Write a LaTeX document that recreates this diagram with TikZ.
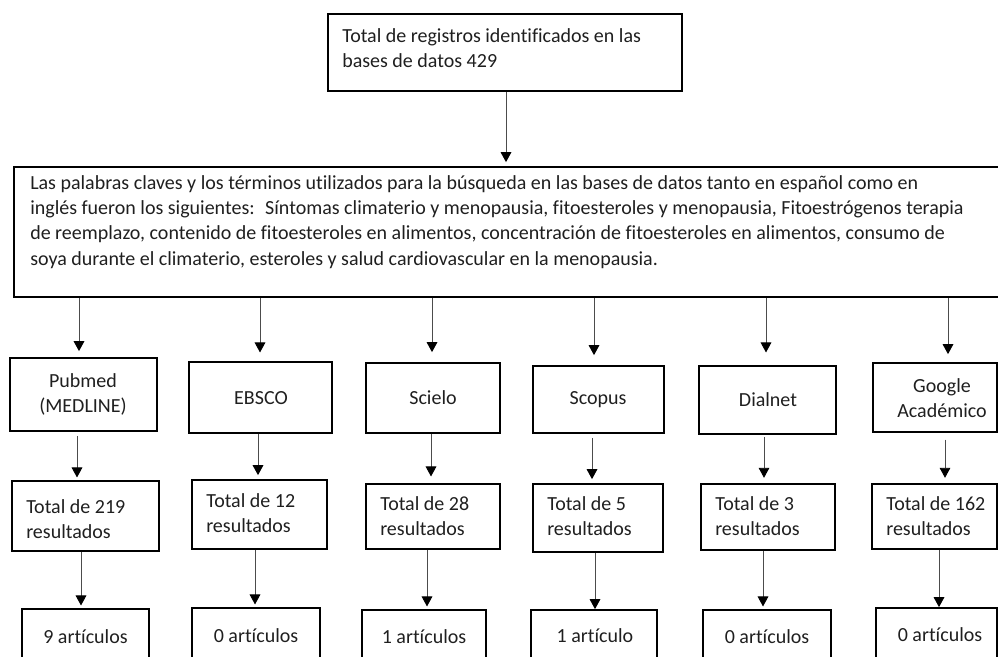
\documentclass[tikz,border=0pt]{standalone}
\usepackage{fontspec}
\setmainfont{Carlito}[Ligatures=NoCommon]
\usetikzlibrary{arrows.meta,fit}
\begin{document}
\begin{tikzpicture}[x=0.75pt,y=-0.75pt,
  box/.style={draw=black, line width=1.3pt, inner sep=0pt},
  txt/.style={font=\fontsize{15}{19}\selectfont, inner sep=0pt, text=black!88},
  arr/.style={draw=black!70, line width=0.7pt, -{Triangle[width=8pt,length=7.5pt,color=black]}}
]
\useasboundingbox (0,0) rectangle (998,656);
\clip (0,0) rectangle (998,656);

% top box
\node[box, fit={(328,14)(682,91)}] (top) {};
\node[txt, align=left, anchor=west] (topt) at (342,50)
  {\strut Total de registros identificados en las\\\strut bases de datos 429};

% big box
\node[box, fit={(14,167)(1005,297)}] (big) {};
\node[txt, align=left, anchor=west] (bigt) at (30,222)
  {\strut Las palabras claves y los términos utilizados para la búsqueda en las bases de datos tanto en español como en\\
   \strut inglés fueron los siguientes:~ Síntomas climaterio y menopausia, fitoesteroles y menopausia, Fitoestrógenos terapia\\
   \strut de reemplazo, contenido de fitoesteroles en alimentos, concentración de fitoesteroles en alimentos, consumo de\\
   \strut soya durante el climaterio, esteroles y salud cardiovascular en la menopausia.};

\draw[arr, shorten >=3pt] (top.south -| 506,0) -- (big.north -| 506,0);

% row 1
\node[box, fit={(10,358)(157,431)}] (pub) {};
\node[txt, align=center] (pubt) at (83,395) {\strut Pubmed\\\strut (MEDLINE)};
\node[box, fit={(189,362)(332,433)}] (ebs) {};
\node[txt] (ebst) at (261,398) {EBSCO};
\node[box, fit={(366,363)(500,433)}] (sci) {};
\node[txt] (scit) at (433,398) {Scielo};
\node[box, fit={(533,366)(664,433)}] (sco) {};
\node[txt] (scot) at (598,400) {Scopus};
\node[box, fit={(699,366)(836,434)}] (dia) {};
\node[txt] (diat) at (768,400) {Dialnet};
\node[box, fit={(873,363)(997,432)}] (goo) {};
\node[txt, align=center] (goot) at (942,400) {\strut Google\\\strut Académico};

\draw[arr, shorten >=4.5pt] (big.south -| 79,0) -- (pub.north -| 79,0);
\draw[arr, shorten >=6.5pt] (big.south -| 260,0) -- (ebs.north -| 260,0);
\draw[arr, shorten >=7.5pt] (big.south -| 432,0) -- (sci.north -| 432,0);
\draw[arr, shorten >=7.5pt] (big.south -| 594,0) -- (sco.north -| 594,0);
\draw[arr, shorten >=9.5pt] (big.south -| 766,0) -- (dia.north -| 766,0);
\draw[arr, shorten >=6pt] (big.south -| 948,0) -- (goo.north -| 948,0);

% row 2
\node[box, fit={(12,481)(159,551)}] (pubr) {};
\node[txt, align=left, anchor=west] (pubrt) at (26,521) {\strut Total de 219\\\strut resultados};
\node[box, fit={(192,480)(327,549)}] (ebsr) {};
\node[txt, align=left, anchor=west] (ebsrt) at (206,515) {\strut Total de 12\\\strut resultados};
\node[box, fit={(366,484)(500,549)}] (scir) {};
\node[txt, align=left, anchor=west] (scirt) at (380,518) {\strut Total de 28\\\strut resultados};
\node[box, fit={(533,484)(663,552)}] (scor) {};
\node[txt, align=left, anchor=west] (scort) at (547,518) {\strut Total de 5\\\strut resultados};
\node[box, fit={(701,484)(835,550)}] (diar) {};
\node[txt, align=left, anchor=west] (diart) at (715,518) {\strut Total de 3\\\strut resultados};
\node[box, fit={(872,484)(997,549)}] (goor) {};
\node[txt, align=left, anchor=west] (goort) at (886,518) {\strut Total de 162\\\strut resultados};

\draw[arr, shorten <=3pt, shorten >=2pt] (pub.south -| 77,0) -- (pubr.north -| 77,0);
\draw[arr, shorten >=3pt] (ebs.south -| 258,0) -- (ebsr.north -| 258,0);
\draw[arr, shorten >=5pt] (sci.south -| 431,0) -- (scir.north -| 431,0);
\draw[arr, shorten <=3pt, shorten >=3pt] (sco.south -| 592,0) -- (scor.north -| 592,0);
\draw[arr, shorten <=1.5pt, shorten >=4pt] (dia.south -| 764,0) -- (diar.north -| 764,0);
\draw[arr, shorten <=5pt, shorten >=4pt] (goo.south -| 945,0) -- (goor.north -| 945,0);

% row 3
\node[box, fit={(22,609)(149,690)}] (pubf) {};
\node[txt] (pubft) at (85.5,637) {9 artículos};
\node[box, fit={(192,608)(320,690)}] (ebsf) {};
\node[txt] (ebsft) at (256,636) {0 artículos};
\node[box, fit={(362,610)(486,690)}] (scif) {};
\node[txt] (scift) at (424,637) {1 artículos};
\node[box, fit={(531,610)(657,690)}] (scof) {};
\node[txt] (scoft) at (595,636) {1 artículo};
\node[box, fit={(703,610)(831,690)}] (diaf) {};
\node[txt] (diaft) at (767,637) {0 artículos};
\node[box, fit={(876,608)(997,690)}] (goof) {};
\node[txt] (gooft) at (940,635) {0 artículos};

\draw[arr, shorten >=2pt] (pubr.south -| 81,0) -- (pubf.north -| 81,0);
\draw[arr, shorten >=2pt] (ebsr.south -| 255,0) -- (ebsf.north -| 255,0);
\draw[arr, shorten >=2pt] (scir.south -| 427,0) -- (scif.north -| 427,0);
\draw[arr] (scor.south -| 595,0) -- (scof.north -| 595,0);
\draw[arr, shorten >=2pt] (diar.south -| 763,0) -- (diaf.north -| 763,0);
\draw[arr] (goor.south -| 939,0) -- (goof.north -| 939,0);
\end{tikzpicture}
\end{document}
